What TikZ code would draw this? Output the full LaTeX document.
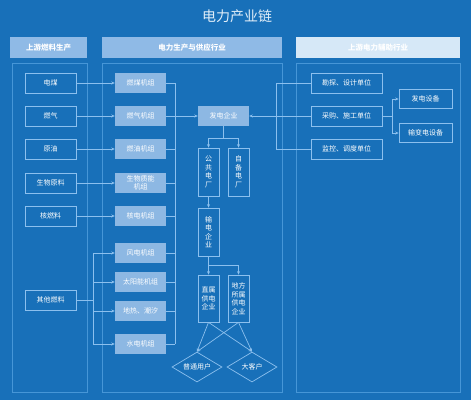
\documentclass[tikz,border=0pt]{standalone}
\usepackage{fontspec}
\newfontfamily\cjk{Noto Sans CJK SC}
\usetikzlibrary{shapes.geometric,arrows.meta}
\definecolor{bg}{RGB}{24,112,185}
\definecolor{colline}{RGB}{70,150,215}
\definecolor{lnk}{RGB}{140,192,238}
\definecolor{boxfill}{RGB}{141,184,227}
\definecolor{hdfill}{RGB}{143,186,230}
\definecolor{hdlight}{RGB}{214,232,247}
\definecolor{titlec}{RGB}{225,238,249}
\tikzset{
  srcbox/.style={draw=lnk, line width=0.7pt, minimum width=51pt, minimum height=20pt, inner sep=0pt, text=white, font=\cjk\fontsize{7}{8}\selectfont},
  unitbox/.style={fill=boxfill, minimum width=51pt, minimum height=20pt, inner sep=0pt, text=white, align=center, font=\cjk\fontsize{7}{8}\selectfont},
  vbox/.style={draw=lnk, line width=0.7pt, minimum width=21pt, minimum height=48pt, inner sep=0pt, text=white, align=center, font=\cjk\fontsize{7}{8.5}\selectfont},
  rbox/.style={draw=lnk, line width=0.7pt, minimum width=71pt, minimum height=20pt, inner sep=0pt, text=white, font=\cjk\fontsize{7}{8}\selectfont},
  eqbox/.style={draw=lnk, line width=0.7pt, minimum width=53pt, minimum height=19.5pt, inner sep=0pt, text=white, font=\cjk\fontsize{7}{8}\selectfont},
  dia/.style={draw=lnk, line width=0.7pt, diamond, aspect=1.667, minimum width=50pt, minimum height=30pt, inner sep=0pt, text=white, font=\cjk\fontsize{7}{8}\selectfont},
  header/.style={minimum height=21pt, inner sep=0pt, text=white, font=\cjk\bfseries\fontsize{7.5}{8}\selectfont},
  colframe/.style={draw=colline, line width=0.7pt},
  conn/.style={draw=lnk, line width=0.7pt},
  arr/.style={conn, -{Stealth[length=3.5pt,width=3pt]}},
}
\begin{document}
\begin{tikzpicture}[x=1pt,y=-1pt]
\fill[bg] (0,0) rectangle (471,400);
\useasboundingbox (0,0) rectangle (471,400);
\node[text=titlec, font=\cjk\fontsize{14}{16}\selectfont] (title) at (237,16) {电力产业链};
% headers
\node[header, fill=hdfill, minimum width=77pt] (h1) at (48.5,47.5) {上游燃料生产};
\node[header, fill=hdfill, minimum width=180pt] (h2) at (192,47.5) {电力生产与供应行业};
\node[header, fill=hdlight, minimum width=164pt] (h3) at (378,47.5) {上游电力辅助行业};
% column frames
\draw[colframe] (12,63) rectangle (87,392);
\draw[colframe] (102,63) rectangle (282,392);
\draw[colframe] (296,63) rectangle (460,392);
% left sources
\node[srcbox] (l1) at (50.5,83) {电煤};
\node[srcbox] (l2) at (50.5,116) {燃气};
\node[srcbox] (l3) at (50.5,149) {原油};
\node[srcbox] (l4) at (50.5,183) {生物原料};
\node[srcbox] (l5) at (50.5,216) {核燃料};
\node[srcbox] (l6) at (50.5,300) {其他燃料};
% generating units
\node[unitbox] (m1) at (140.5,83) {燃煤机组};
\node[unitbox] (m2) at (140.5,116) {燃气机组};
\node[unitbox] (m3) at (140.5,149) {燃油机组};
\node[unitbox, font=\cjk\fontsize{7}{8.5}\selectfont] (m4) at (140.5,183) {生物质能\\机组};
\node[unitbox] (m5) at (140.5,216) {核电机组};
\node[unitbox] (m6) at (140.5,253) {风电机组};
\node[unitbox] (m7) at (140.5,282) {太阳能机组};
\node[unitbox] (m8) at (140.5,311) {地热、潮汐};
\node[unitbox] (m9) at (140.5,344) {水电机组};
% central chain
\node[unitbox] (fd) at (223.5,116) {发电企业};
\node[vbox] (gg) at (208.5,172) {公\\共\\电\\厂};
\node[vbox] (zb) at (238.5,172) {自\\备\\电\\厂};
\node[vbox] (ss) at (208.5,232) {输\\电\\企\\业};
\node[vbox, minimum height=47pt] (zs) at (208.5,298.5) {直属\\供电\\企业};
\node[vbox, minimum height=47pt] (df) at (238.5,298.5) {地方\\所属\\供电\\企业};
\node[dia] (pt) at (197,367) {普通用户};
\node[dia] (dk) at (252,367) {大客户};
% right column
\node[rbox] (r1) at (346.5,83) {勘探、设计单位};
\node[rbox] (r2) at (346.5,116) {采购、施工单位};
\node[rbox] (r3) at (346.5,149) {监控、调度单位};
\node[eqbox] (e1) at (425.5,99) {发电设备};
\node[eqbox] (e2) at (425.5,133) {输变电设备};
% coordinates
\coordinate (jx) at (93,300);
\coordinate (bus) at (175,0);
\coordinate (rbus) at (276,0);
\coordinate (s1) at (223.5,138);
\coordinate (s2) at (208.5,265);
\coordinate (rb) at (392,116);
% sources to units
\foreach \i in {1,...,5} {\draw[arr] (l\i.east) -- (m\i.west);}
\draw[conn] (l6.east) -- (jx);
\draw[conn] (jx |- m6) -- (jx |- m9);
\foreach \i in {6,...,9} {\draw[arr] (jx |- m\i) -- (m\i.west);}
% units to bus
\draw[conn] (bus |- m1) -- (bus |- m9);
\foreach \i in {1,...,9} {\draw[conn] (m\i.east) -- (bus |- m\i);}
\draw[arr] (bus |- fd) -- (fd.west);
% right bus
\draw[conn] (rbus |- r1) -- (rbus |- r3);
\foreach \i in {1,2,3} {\draw[conn] (r\i.west) -- (rbus |- r\i);}
\draw[arr] (rbus |- fd) -- (fd.east);
% chain
\draw[conn] (fd.south) -- (s1);
\draw[conn] (gg |- s1) -- (zb |- s1);
\draw[arr] (gg |- s1) -- (gg.north);
\draw[arr] (zb |- s1) -- (zb.north);
\draw[arr] (gg.south) -- (ss.north);
\draw[conn] (ss.south) -- (s2);
\draw[conn] (s2) -- (df |- s2);
\draw[arr] (s2) -- (zs.north);
\draw[arr] (df |- s2) -- (df.north);
\draw[arr] (zs.south) -- (pt.north);
\draw[arr] (zs.south) -- (dk.north);
\draw[arr] (df.south) -- (pt.north);
\draw[arr] (df.south) -- (dk.north);
% equipment
\draw[conn] (r2.east) -- (rb);
\draw[conn] (rb |- e1) -- (rb |- e2);
\draw[arr] (rb |- e1) -- (e1.west);
\draw[arr] (rb |- e2) -- (e2.west);
\end{tikzpicture}
\end{document}
